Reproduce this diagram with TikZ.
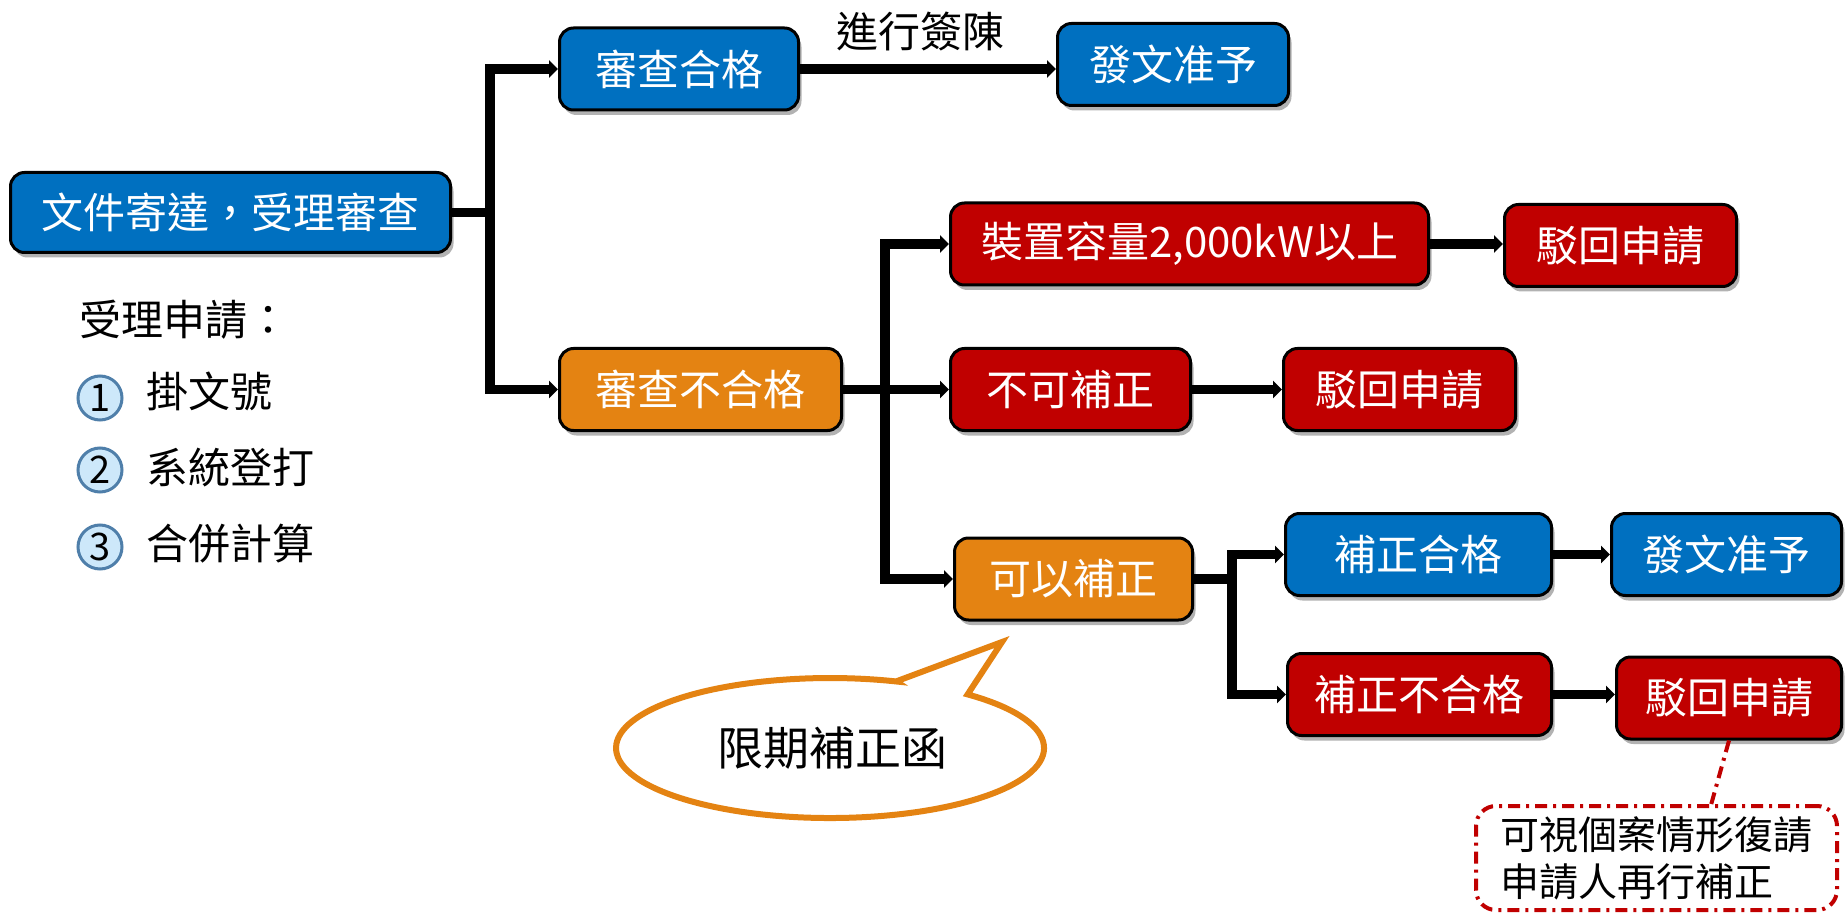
\documentclass[tikz,border=0pt]{standalone}
\usepackage{fontspec}
\setmainfont{Noto Sans CJK TC}
\usetikzlibrary{arrows.meta,shadows,calc}
\definecolor{cblue}{HTML}{0070C0}
\definecolor{cred}{HTML}{C00000}
\definecolor{corange}{HTML}{E48312}
\definecolor{cfill}{HTML}{CDE8FA}
\definecolor{cstroke}{HTML}{4F7FAA}
\begin{document}
\begin{tikzpicture}[x=0.5pt,y=-0.5pt,
  box/.style={draw=black, line width=1.5pt, rounded corners=7pt, text=white,
    font=\fontsize{21}{24}\selectfont, minimum height=41pt, inner sep=0pt,
    drop shadow={shadow xshift=1.5pt,shadow yshift=-2.5pt,opacity=0.3,fill=black}},
  bluebox/.style={box, fill=cblue},
  redbox/.style={box, fill=cred},
  orangebox/.style={box, fill=corange},
  flow/.style={line width=4.75pt, line join=miter, -{Triangle[length=4.5pt,width=8.5pt]}},
  txt/.style={inner sep=0pt, font=\fontsize{21}{24}\selectfont},
  numc/.style={circle, draw=cstroke, fill=cfill, line width=1.5pt, minimum size=22pt,
    inner sep=0pt, font=\fontsize{19}{19}\selectfont},
  dashdot/.style={draw=cred, line width=2pt, dash pattern=on 6pt off 3pt on 1.5pt off 3pt}
]
\useasboundingbox (0,0) rectangle (1845,914);

% boxes
\node[bluebox, minimum width=220pt, minimum height=40pt] (main) at (230.5,212.5) {文件寄達，受理審查};
\node[bluebox, minimum width=119.5pt] (ok1) at (679,69) {審查合格};
\node[bluebox, minimum width=115.5pt] (grant1) at (1173,64.5) {發文准予};
\node[orangebox, minimum width=141pt] (fail) at (700.5,389.5) {審查不合格};
\node[redbox, minimum width=239pt] (cap) at (1189.5,244) {裝置容量2,000kW以上};
\node[redbox, minimum width=116pt] (rej1) at (1620.5,245.5) {駁回申請};
\node[redbox, minimum width=120pt] (nofix) at (1070.5,389.5) {不可補正};
\node[redbox, minimum width=116pt] (rej2) at (1399.5,389.5) {駁回申請};
\node[orangebox, minimum width=119pt] (canfix) at (1073.5,579) {可以補正};
\node[bluebox, minimum width=133pt] (fixok) at (1418.5,554.5) {補正合格};
\node[bluebox, minimum width=115pt] (grant2) at (1726.5,554.5) {發文准予};
\node[redbox, minimum width=132pt] (fixfail) at (1419.5,694.5) {補正不合格};
\node[redbox, minimum width=112.5pt] (rej3) at (1729,698) {駁回申請};

% label
\node[txt] (lbl) at (920,32) {進行簽陳};

% connectors
\coordinate (b1) at (490,0);
\coordinate (b2) at (885,0);
\coordinate (b3) at (1232,0);
\draw[flow] (main.east) -- (main.east -| b1) |- (ok1.west);
\draw[flow] (main.east -| b1) |- (fail.west);
\draw[flow] (ok1.east) -- (ok1.east -| grant1.west);
\draw[flow] (fail.east) -- (nofix.west);
\draw[flow] (fail.east -| b2) |- (cap.west);
\draw[flow] (fail.east -| b2) |- (canfix.west);
\draw[flow] (cap.east) -- (cap.east -| rej1.west);
\draw[flow] (nofix.east) -- (rej2.west);
\draw[flow] (canfix.east) -- (canfix.east -| b3) |- (fixok.west);
\draw[flow] (canfix.east -| b3) |- (fixfail.west);
\draw[flow] (fixok.east) -- (grant2.west);
\draw[flow] (fixfail.east) -- (fixfail.east -| rej3.west);

% left list
\node[txt, anchor=west] (acc) at (79,320) {受理申請：};
\node[numc] (n1) at (100,398) {1};
\node[numc] (n2) at (100,470) {2};
\node[numc] (n3) at (100,547) {3};
\node[txt, anchor=west] (i1) at (146,391) {掛文號};
\node[txt, anchor=west] (i2) at (146,468) {系統登打};
\node[txt, anchor=west] (i3) at (146,544) {合併計算};

% speech bubble
\draw[line width=3pt, draw=corange, fill=white, line join=miter]
  (896.1,681.4) -- (1002,642) -- (967.6,694.4)
  arc[start angle=-50, end angle=288, x radius=214, y radius=70] -- cycle;
\node[inner sep=0pt, font=\fontsize{23}{26}\selectfont] (bub) at (832,748) {限期補正函};

% note
\node[dashdot, rounded corners=10pt, minimum width=180.5pt, minimum height=52pt,
  align=left, font=\fontsize{19.5}{23.5}\selectfont, inner sep=0pt] (note) at (1656.5,858)
  {可視個案情形復請\\申請人再行補正};
\draw[dashdot] (rej3.south) -- ($(note.north west)!0.65!(note.north east)$);
\end{tikzpicture}
\end{document}
